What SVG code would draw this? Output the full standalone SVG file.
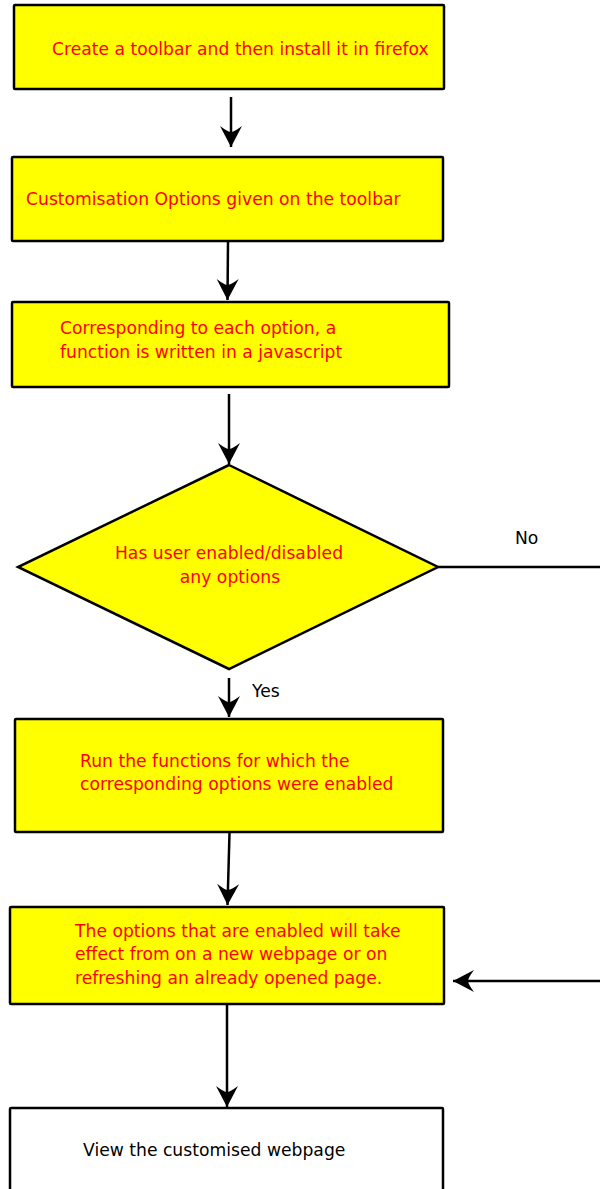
<svg xmlns="http://www.w3.org/2000/svg" width="600" height="1189" viewBox="0 0 600 1189">
<style>
.box{fill:#ffff00;stroke:#000;stroke-width:2.5;}
.wbox{fill:#fff;stroke:#000;stroke-width:2.5;}
.t{font-family:"DejaVu Sans",sans-serif;font-size:17.2px;fill:#ff0000;}
.lbl{font-family:"DejaVu Sans",sans-serif;font-size:17.2px;fill:#000;}
.ln{fill:none;stroke:#000;stroke-width:2.5;}
</style>
<defs>
<marker id="ah" markerUnits="userSpaceOnUse" markerWidth="24" markerHeight="24" viewBox="-22 -12 24 24" refX="0" refY="0" orient="auto" overflow="visible">
<path d="M0,0 L-21,-11 Q-15,-3 -15,0 Q-15,3 -21,11 Z" fill="#000"/>
</marker>
</defs>
<rect width="600" height="1189" fill="#fff"/>
<g id="connectors">
<line class="ln" x1="231" y1="97" x2="231" y2="147" marker-end="url(#ah)"/>
<line class="ln" x1="228" y1="242" x2="227.5" y2="300" marker-end="url(#ah)"/>
<line class="ln" x1="229" y1="394" x2="229" y2="464" marker-end="url(#ah)"/>
<line class="ln" x1="229" y1="678" x2="229" y2="717" marker-end="url(#ah)"/>
<line class="ln" x1="229.5" y1="833" x2="227.5" y2="905" marker-end="url(#ah)"/>
<line class="ln" x1="227" y1="1004" x2="227" y2="1107" marker-end="url(#ah)"/>
<line class="ln" x1="438" y1="567" x2="600" y2="567"/>
<line class="ln" x1="600" y1="981" x2="453" y2="981" marker-end="url(#ah)"/>
<text class="lbl" x="515" y="544">No</text>
<text class="lbl" x="252" y="697">Yes</text>
</g>
<g id="n1">
<rect class="box" x="14" y="5" width="430" height="84" rx="1"/>
<text class="t" x="52" y="55">Create a toolbar and then install it in firefox</text>
</g>
<g id="n2">
<rect class="box" x="12" y="157" width="431" height="84" rx="1"/>
<text class="t" x="26" y="205">Customisation Options given on the toolbar</text>
</g>
<g id="n3">
<rect class="box" x="12" y="302" width="437" height="85" rx="1"/>
<text class="t" x="60" y="334">Corresponding to each option, a</text>
<text class="t" x="60" y="358">function is written in a javascript</text>
</g>
<g id="n4">
<polygon class="box" points="229,465 438,567 229,669 18,567"/>
<text class="t" x="229" y="559" text-anchor="middle">Has user enabled/disabled</text>
<text class="t" x="230" y="583" text-anchor="middle">any options</text>
</g>
<g id="n5">
<rect class="box" x="15" y="719" width="428" height="113" rx="1"/>
<text class="t" x="80" y="767">Run the functions for which the</text>
<text class="t" x="80" y="790">corresponding options were enabled</text>
</g>
<g id="n6">
<rect class="box" x="10" y="907" width="434" height="97" rx="1"/>
<text class="t" x="75" y="937">The options that are enabled will take</text>
<text class="t" x="75" y="960">effect from on a new webpage or on</text>
<text class="t" x="75" y="984">refreshing an already opened page.</text>
</g>
<g id="n7">
<rect class="wbox" x="10" y="1108" width="433" height="100" rx="1"/>
<text class="lbl" x="83" y="1156">View the customised webpage</text>
</g>
</svg>
